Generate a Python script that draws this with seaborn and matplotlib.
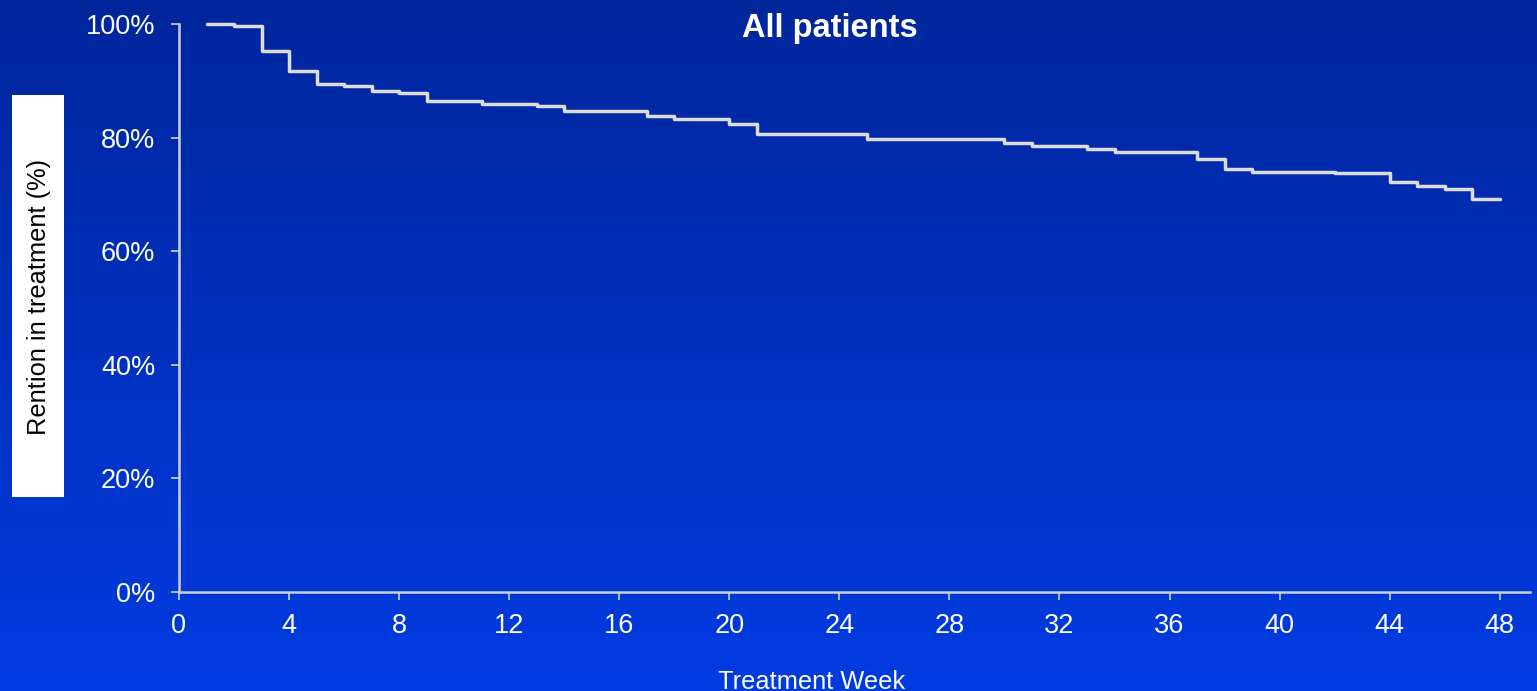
import numpy as np
import pandas as pd
import matplotlib
matplotlib.use('Agg')
import matplotlib.pyplot as plt
import seaborn as sns
from matplotlib.patches import Rectangle

# данные
weeks = [1, 2, 3, 4, 5, 6, 7, 8, 9, 11, 13, 14, 17, 18, 20, 21, 25, 30, 31, 33,
         34, 37, 38, 39, 42, 44, 45, 46, 47, 48]
retention = [100, 99.6, 95.3, 91.7, 89.4, 89.0, 88.2, 87.8, 86.4, 86.0, 85.6, 84.7,
             83.8, 83.3, 82.4, 80.7, 79.8, 79.0, 78.5, 78.0, 77.5, 76.2, 74.4, 74.0,
             73.7, 72.2, 71.5, 71.0, 69.2, 69.2]
x_ticks = list(range(0, 49, 4))
y_ticks = [0, 20, 40, 60, 80, 100]

df = pd.DataFrame({'week': weeks, 'retention': retention})

sns.set_style("ticks")
plt.rcParams['font.family'] = ['Liberation Sans', 'DejaVu Sans']

fig = plt.figure(figsize=(15.37, 6.91), dpi=100)

# фон с градиентом
bg = fig.add_axes([0, 0, 1, 1], zorder=-10)
top = np.array([0x00, 0x26, 0x9C]) / 255
bottom = np.array([0x00, 0x3B, 0xE2]) / 255
t = np.linspace(0, 1, 256)[:, None]
grad = top * (1 - t) + bottom * t
bg.imshow(grad[:, None, :].repeat(2, axis=1), aspect='auto', extent=[0, 1, 0, 1])
bg.axis('off')

ax = fig.add_axes([179 / 1537, 1 - 592 / 691, (1530 - 179) / 1537, (592 - 24) / 691])
ax.set_facecolor('none')

sns.lineplot(data=df, x='week', y='retention', drawstyle='steps-post',
             color='#DCDCDC', linewidth=2.5, ax=ax, clip_on=False)

ax.set_xlim(0, 49.1)
ax.set_ylim(0, 100)
ax.set_xticks(x_ticks)
ax.set_yticks(y_ticks)
ax.set_yticklabels([f'{v}%' for v in y_ticks])
ax.set_xlabel('')
ax.set_ylabel('')

for s in ['top', 'right']:
    ax.spines[s].set_visible(False)
for s in ['left', 'bottom']:
    ax.spines[s].set_color('#D0D0D0')
    ax.spines[s].set_linewidth(1.8)

ax.tick_params(axis='both', colors='#D0D0D0', labelcolor='white', labelsize=19.5,
               length=6, width=1.2, direction='out')
ax.tick_params(axis='y', pad=11)
ax.tick_params(axis='x', pad=9)
ax.grid(False)

fig.text(830 / 1537, 1 - 37 / 691, 'All patients', color='white', fontsize=23.5,
         fontweight='bold', ha='center', va='baseline')
fig.text(812 / 1537, 1 - 689 / 691, 'Treatment Week', color='white', fontsize=18.3,
         ha='center', va='baseline')

# белая плашка для подписи оси Y
fig.patches.append(Rectangle((12 / 1537, 1 - 497 / 691), 52 / 1537, 402 / 691,
                             transform=fig.transFigure, facecolor='white',
                             edgecolor='none', zorder=1))
fig.text(39 / 1537, 1 - 296.5 / 691, 'Rention in treatment (%)', color='black',
         fontsize=18.3, rotation=90, ha='center', va='center', zorder=2)

plt.savefig('out.png', dpi=100)
